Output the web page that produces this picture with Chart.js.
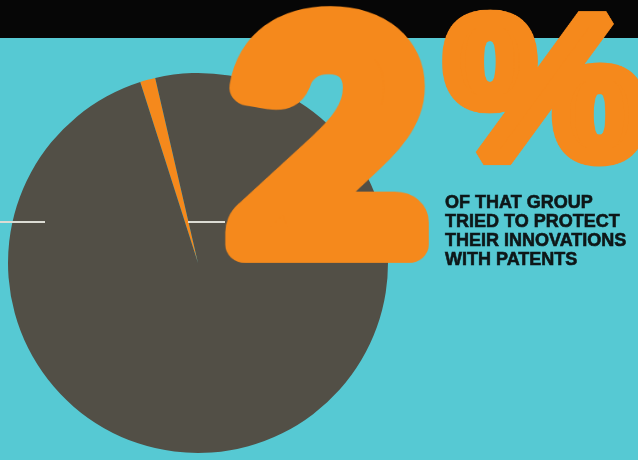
<!DOCTYPE html>
<html>
<head>
<meta charset="utf-8">
<script src="https://cdn.jsdelivr.net/npm/chart.js@4.4.1/dist/chart.umd.min.js"></script>
<style>
  html, body { margin: 0; padding: 0; background: #56c9d3; }
  #wrap { width: 638px; height: 460px; position: relative; }
  canvas { display: block; }
</style>
</head>
<body>
<div id="wrap"><canvas id="c" width="638" height="460"></canvas></div>
<script>
// ---- data ----
const categories = ['Tried to protect innovations with patents', 'Did not'];
const shares = [1.3, 98.7];
const headline = '2';
const headlineUnit = '%';
const captionLines = ['OF THAT GROUP', 'TRIED TO PROTECT', 'THEIR INNOVATIONS', 'WITH PATENTS'];

// ---- colours ----
const CYAN = '#56c9d3';
const DARK = '#524f46';
const ORANGE = '#f5891c';
const BAND = '#060606';
const INK = '#0e1718';

// draw a heavy glyph (fill + stroke) and stretch it into a box
function fitHeavy(ctx, txt, font, weight, join, x0, y0, x1, y1, color) {
  const off = document.createElement('canvas');
  const o = off.getContext('2d');
  o.font = font;
  const m = o.measureText(txt);
  const gw = m.actualBoundingBoxLeft + m.actualBoundingBoxRight;
  const gh = m.actualBoundingBoxAscent + m.actualBoundingBoxDescent;
  off.width = Math.ceil(gw + weight + 4);
  off.height = Math.ceil(gh + weight + 4);
  o.font = font;
  o.textBaseline = 'alphabetic';
  o.fillStyle = color;
  o.strokeStyle = color;
  o.lineWidth = weight;
  o.lineJoin = join;
  o.miterLimit = 1.6;
  const px = m.actualBoundingBoxLeft + weight / 2 + 2;
  const py = m.actualBoundingBoxAscent + weight / 2 + 2;
  o.fillText(txt, px, py);
  o.strokeText(txt, px, py);
  ctx.drawImage(off, 2, 2, gw + weight, gh + weight, x0, y0, x1 - x0, y1 - y0);
}

const decor = {
  id: 'decor',
  beforeDraw(chart) {
    const ctx = chart.ctx;
    ctx.save();
    ctx.fillStyle = CYAN;
    ctx.fillRect(0, 0, chart.width, chart.height);
    ctx.fillStyle = BAND;
    ctx.fillRect(0, 0, chart.width, 38);
    ctx.restore();
  },
  afterDraw(chart) {
    const ctx = chart.ctx;
    const arc = chart.getDatasetMeta(0).data[0];
    const cx = arc.x, cy = arc.y;
    // white guide lines
    ctx.save();
    ctx.strokeStyle = '#dcdcd4';
    ctx.lineWidth = 2;
    ctx.beginPath();
    ctx.moveTo(0, cy - 41); ctx.lineTo(cx - 153, cy - 41);
    ctx.moveTo(cx - 10, cy - 41); ctx.lineTo(cx + 27, cy - 41);
    ctx.stroke();
    ctx.restore();
    // headline
    fitHeavy(ctx, headline, 'bold 360px "Lato", sans-serif', 44, 'round', 223, 5, 433, 263, ORANGE);
    fitHeavy(ctx, headlineUnit, 'bold 360px "Liberation Sans", Arial, sans-serif', 30, 'miter', 440, 8, 650, 168, ORANGE);
    // caption
    ctx.save();
    ctx.fillStyle = INK;
    ctx.strokeStyle = INK;
    ctx.lineWidth = 0.6;
    ctx.font = 'bold 18px "Liberation Sans", Arial, sans-serif';
    ctx.textBaseline = 'alphabetic';
    const bases = [208, 227, 246, 265];
    captionLines.forEach((t, i) => { ctx.fillText(t, 445, bases[i]); ctx.strokeText(t, 445, bases[i]); });
    ctx.restore();
  }
};

new Chart(document.getElementById('c'), {
  type: 'pie',
  data: {
    labels: categories,
    datasets: [{
      data: shares,
      backgroundColor: [ORANGE, DARK],
      borderWidth: 0
    }]
  },
  options: {
    responsive: false,
    animation: false,
    rotation: -17.7,
    layout: { padding: { left: 8, top: 73, right: 250, bottom: 7 } },
    plugins: { legend: { display: false }, tooltip: { enabled: false } }
  },
  plugins: [decor]
});
</script>
</body>
</html>
